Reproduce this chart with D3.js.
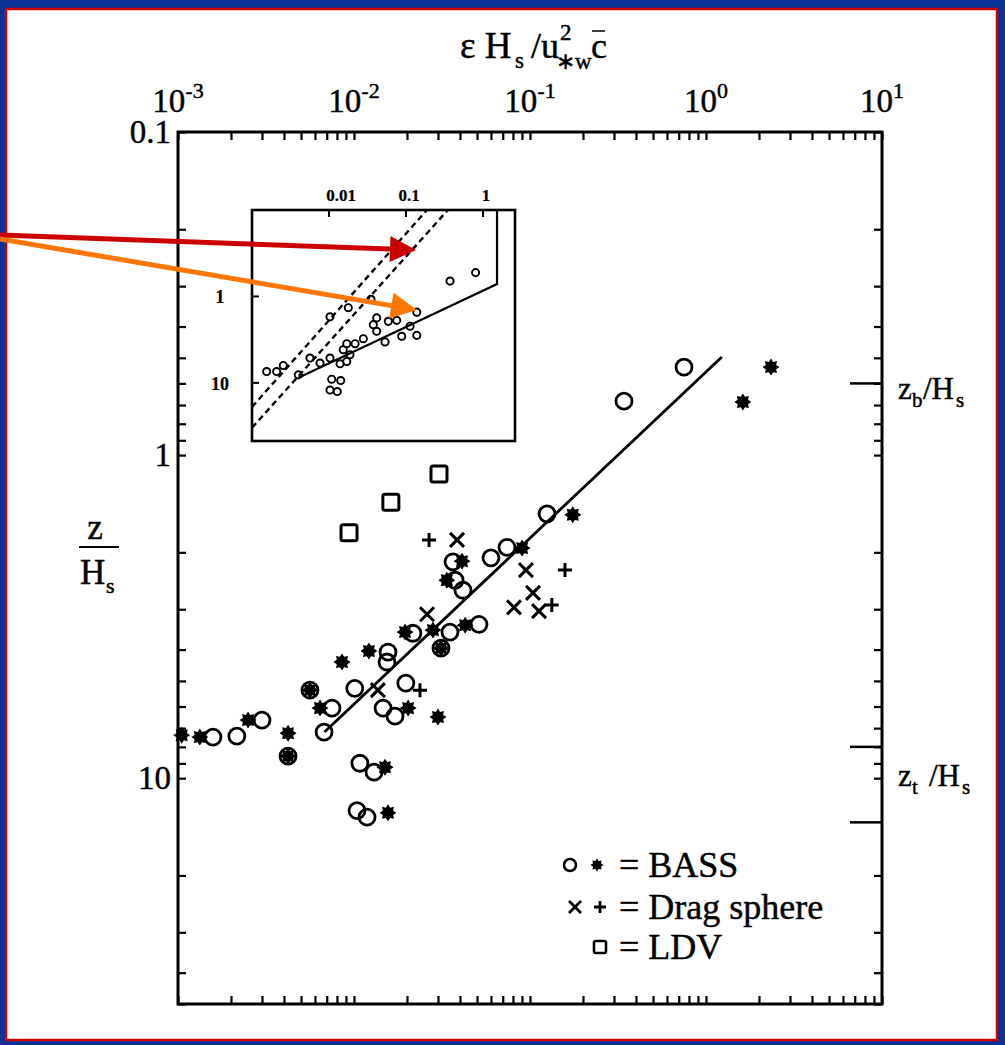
<!DOCTYPE html>
<html><head><meta charset="utf-8">
<script src="https://cdn.jsdelivr.net/npm/d3@7"></script>
<style>
body{margin:0;background:#fff}
svg{display:block}
text{font-family:"Liberation Serif","Times New Roman",serif;fill:#000;stroke:#000;stroke-width:0.45px}
</style>
</head><body>
<svg id="chart" width="1005" height="1045"></svg>
<script>
// ---------------- data ----------------
const xTickValues = [1e-3, 1e-2, 1e-1, 1, 10];
const xTickExponents = ["-3", "-2", "-1", "0", "1"];
const yTickValues = [0.1, 1, 10];
const yTickLabels = ["0.1", "1", "10"];

// BASS open circles
const bassOpenX = [0.750,0.342,0.125,0.074,0.060,0.0365,0.0375,0.0416,0.0513,0.0216,0.0351,0.0156,0.0154,0.0101,0.0075,0.00676,0.00562,0.0197,0.01463,0.0171,0.0108,0.0130,0.0104,0.01186,0.0030,0.00216,0.00158,0.00422,0.0312];
const bassOpenY = [0.534,0.681,1.52,1.93,2.08,2.14,2.44,2.62,3.34,3.56,3.53,4.07,4.37,5.27,6.07,7.20,5.34,5.08,6.07,6.43,8.99,9.58,12.6,13.2,6.61,7.41,7.46,8.55,3.96];
// BASS stars
const bassStarX = [2.34,1.62,0.175,0.0902,0.0411,0.0337,0.0428,0.00105,0.00133,0.0025,0.00422,0.00855,0.01216,0.0195,0.00641,0.0203,0.030,0.0150,0.0156,0.00562,0.00422,0.0312,0.0281];
const bassStarY = [0.534,0.685,1.53,1.94,2.13,2.44,3.36,7.36,7.46,6.61,7.26,4.37,4.04,3.53,6.07,6.07,6.47,9.25,12.8,5.34,8.55,3.96,3.48];
// Drag sphere
const dragTimesX = [0.0385,0.0948,0.0811,0.104,0.1125,0.026,0.01367];
const dragTimesY = [1.83,2.27,2.96,2.67,3.04,3.11,5.34];
const dragPlusX = [0.0267,0.158,0.133,0.0237];
const dragPlusY = [1.83,2.27,2.91,5.34];
// LDV
const ldvX = [0.0304,0.0162,0.00937];
const ldvY = [1.145,1.40,1.74];
// fitted line
const fitX = [0.0068, 1.23];
const fitY = [7.2, 0.497];
// right-axis markers (z_b, z_t range)
const rightMarks = [0.6, 8, 13.7];
const rightLabels = ["b", "t"];
const rightLabelValues = [0.67, 10.6];

// inset
const insetTickX = [0.01, 0.1, 1];
const insetTickXLabels = ["0.01", "0.1", "1"];
const insetTickY = [1, 10];
const insetTickYLabels = ["1", "10"];
const insetX = [0.80,0.373,0.138,0.0351,0.0178,0.0103,0.0416,0.0376,0.0416,0.0589,0.0757,0.1127,0.138,0.0879,0.0534,0.0279,0.0218,0.0170,0.0153,0.0187,0.0170,0.0103,0.00764,0.00566,0.0139,0.00399,0.00255,0.00209,0.00155,0.01084,0.0142,0.0103,0.0128];
const insetY = [0.53,0.664,1.52,1.08,1.35,1.72,1.77,2.12,2.53,1.94,1.89,2.21,2.82,2.89,3.36,3.08,3.52,3.52,4.13,4.72,5.65,5.16,5.90,5.16,6.01,8.07,6.29,7.39,7.39,9.06,9.40,12.1,12.6];
const insetDash1X = [0.001, 0.187];
const insetDash1Y = [19, 0.1];
const insetDash2X = [0.001, 0.35];
const insetDash2Y = [33, 0.1];
const insetSolidX = [0.004, 1.52, 1.52];
const insetSolidY = [8.7, 0.72, 0.1];

// legend
const legendLabels = ["= BASS", "= Drag sphere", "= LDV"];

// ---------------- drawing ----------------
const svg = d3.select("#chart");
const W = 1005, H = 1045;
const L = 178, R = 882, T = 132, B = 1004;

// frame
svg.append("rect").attr("x",0).attr("y",0).attr("width",W).attr("height",H).attr("fill","#0a3296");
svg.append("rect").attr("x",6).attr("y",9).attr("width",W-14).attr("height",H-14).attr("fill","#fff")
  .attr("stroke","#d00000").attr("stroke-width",2.5);

const x = d3.scaleLog().domain([1e-3, 10]).range([L, R]);
const y = d3.scaleLog().domain([0.1, 50]).range([T, B]);

const axes = svg.append("g");
function styleAxis(g){ g.select(".domain").remove(); g.selectAll(".tick line").attr("stroke","#000").attr("stroke-width",2.2); }
axes.append("g").attr("transform",`translate(0,${T})`).call(d3.axisTop(x).tickValues(x.ticks()).tickSize(-8).tickFormat("")).call(styleAxis);
axes.append("g").attr("transform",`translate(0,${B})`).call(d3.axisBottom(x).tickValues(x.ticks()).tickSize(-8).tickFormat("")).call(styleAxis);
axes.append("g").attr("transform",`translate(${L},0)`).call(d3.axisLeft(y).tickValues(y.ticks()).tickSize(-8).tickFormat("")).call(styleAxis);
axes.append("g").attr("transform",`translate(${R},0)`).call(d3.axisRight(y).tickValues(y.ticks()).tickSize(-8).tickFormat("")).call(styleAxis);

svg.append("rect").attr("x",L).attr("y",T).attr("width",R-L).attr("height",B-T)
  .attr("fill","none").attr("stroke","#000").attr("stroke-width",3);

// right long ticks
svg.selectAll("line.rmark").data(rightMarks).join("line").attr("class","rmark")
  .attr("x1",R-32).attr("x2",R).attr("y1",d=>y(d)).attr("y2",d=>y(d))
  .attr("stroke","#000").attr("stroke-width",2.5);

// top tick labels
const xl = svg.selectAll("text.xl").data(xTickValues).join("text").attr("class","xl")
  .attr("x",d=>x(d)).attr("y",112).attr("text-anchor","middle").attr("font-size",33);
xl.append("tspan").text("10");
xl.append("tspan").attr("font-size",22).attr("dy",-14).text((d,i)=>xTickExponents[i]);

// left tick labels
svg.selectAll("text.yl").data(yTickValues).join("text").attr("class","yl")
  .attr("x",171).attr("y",d=>y(d)+11).attr("text-anchor","end").attr("font-size",33)
  .text((d,i)=>yTickLabels[i]);

// title
const tg = svg.append("g");
tg.append("text").attr("x",460).attr("y",58).attr("font-size",37).text("ε H");
tg.append("text").attr("x",515).attr("y",68).attr("font-size",23).text("s");
tg.append("text").attr("x",531).attr("y",58).attr("font-size",36).text("/u");
tg.append("text").attr("x",560).attr("y",40).attr("font-size",23).text("2");
tg.append("text").attr("x",556).attr("y",69).attr("font-size",23).text("∗w");
tg.append("text").attr("x",591).attr("y",58).attr("font-size",36).text("c");
tg.append("line").attr("x1",592).attr("x2",605).attr("y1",31).attr("y2",31).attr("stroke","#000").attr("stroke-width",1.5);

// left axis label z / H_s
svg.append("text").attr("x",95).attr("y",539).attr("text-anchor","middle").attr("font-size",35).text("z");
svg.append("line").attr("x1",79).attr("x2",119).attr("y1",547).attr("y2",547).attr("stroke","#000").attr("stroke-width",2);
svg.append("text").attr("x",80).attr("y",584).attr("font-size",35).text("H");
svg.append("text").attr("x",106).attr("y",593).attr("font-size",22).text("s");

// right labels
function rightLabel(v, sub, gap){
  const g = svg.append("g").attr("transform",`translate(898,${y(v)})`);
  g.append("text").attr("x",0).attr("y",0).attr("font-size",31).text("z");
  g.append("text").attr("x",14).attr("y",8).attr("font-size",21).text(sub);
  g.append("text").attr("x",25+gap).attr("y",0).attr("font-size",31).text("/H");
  g.append("text").attr("x",58+gap).attr("y",8).attr("font-size",21).text("s");
}
rightLabel(rightLabelValues[0], rightLabels[0], 0);
rightLabel(rightLabelValues[1], rightLabels[1], 6);

// ---------- inset ----------
const ix = d3.scaleLog().domain([1e-3, 2.6]).range([252, 515]);
const iy = d3.scaleLog().domain([0.1, 47]).range([210, 441]);
const inset = svg.append("g");
inset.append("rect").attr("x",252).attr("y",210).attr("width",263).attr("height",231)
  .attr("fill","#fff").attr("stroke","#000").attr("stroke-width",2.6);
inset.selectAll("line.itx").data(insetTickX).join("line").attr("class","itx")
  .attr("x1",d=>ix(d)).attr("x2",d=>ix(d)).attr("y1",210).attr("y2",217).attr("stroke","#000").attr("stroke-width",2);
inset.selectAll("line.ity").data(insetTickY).join("line").attr("class","ity")
  .attr("x1",252).attr("x2",259).attr("y1",d=>iy(d)).attr("y2",d=>iy(d)).attr("stroke","#000").attr("stroke-width",2);
inset.selectAll("text.itxl").data(insetTickX).join("text").attr("class","itxl")
  .attr("x",(d,i)=>ix(d)+(i===0?12:3)).attr("y",201).attr("text-anchor","middle").attr("font-size",17).attr("font-weight","bold")
  .style("stroke-width","0.2px")
  .text((d,i)=>insetTickXLabels[i]);
inset.selectAll("text.ityl").data(insetTickY).join("text").attr("class","ityl")
  .attr("x",220).attr("y",d=>iy(d)+7).attr("text-anchor","middle").attr("font-size",18).attr("font-weight","bold")
  .style("stroke-width","0.2px")
  .text((d,i)=>insetTickYLabels[i]);
const iline = d3.line().x(d=>ix(d[0])).y(d=>iy(d[1]));
inset.append("defs").append("clipPath").attr("id","iclip").append("rect").attr("x",252).attr("y",210).attr("width",263).attr("height",231);
const ic = inset.append("g").attr("clip-path","url(#iclip)");
ic.append("path").attr("d",iline(d3.zip(insetDash1X,insetDash1Y))).attr("fill","none").attr("stroke","#000").attr("stroke-width",2.4).attr("stroke-dasharray","6,4");
ic.append("path").attr("d",iline(d3.zip(insetDash2X,insetDash2Y))).attr("fill","none").attr("stroke","#000").attr("stroke-width",2.4).attr("stroke-dasharray","6,4");
ic.append("path").attr("d",iline(d3.zip(insetSolidX,insetSolidY))).attr("fill","none").attr("stroke","#000").attr("stroke-width",2.2);
ic.selectAll("circle").data(d3.zip(insetX,insetY)).join("circle")
  .attr("cx",d=>ix(d[0])).attr("cy",d=>iy(d[1])).attr("r",3.6)
  .attr("fill","none").attr("stroke","#000").attr("stroke-width",1.9);

// ---------- main marks ----------
function starPath(r){
  const n=8, p=[];
  for(let i=0;i<2*n;i++){const a=Math.PI*i/n; const rr=i%2?r*0.66:r; p.push([rr*Math.sin(a),-rr*Math.cos(a)]);}
  return "M"+p.map(q=>q[0].toFixed(2)+","+q[1].toFixed(2)).join("L")+"Z";
}
const line = d3.line().x(d=>x(d[0])).y(d=>y(d[1]));
svg.append("path").attr("d",line(d3.zip(fitX,fitY))).attr("fill","none").attr("stroke","#000").attr("stroke-width",2.8);

const marks = svg.append("g");
marks.selectAll("circle.bo").data(d3.zip(bassOpenX,bassOpenY)).join("circle").attr("class","bo")
  .attr("cx",d=>x(d[0])).attr("cy",d=>y(d[1])).attr("r",8).attr("fill","none").attr("stroke","#000").attr("stroke-width",2.8);
marks.selectAll("path.bs").data(d3.zip(bassStarX,bassStarY)).join("path").attr("class","bs")
  .attr("transform",d=>`translate(${x(d[0])},${y(d[1])})`).attr("d",starPath(8.5)).attr("fill","#000");
marks.selectAll("path.dt").data(d3.zip(dragTimesX,dragTimesY)).join("path").attr("class","dt")
  .attr("transform",d=>`translate(${x(d[0])},${y(d[1])})`).attr("d","M-7,-7L7,7M-7,7L7,-7")
  .attr("stroke","#000").attr("stroke-width",3).attr("fill","none");
marks.selectAll("path.dp").data(d3.zip(dragPlusX,dragPlusY)).join("path").attr("class","dp")
  .attr("transform",d=>`translate(${x(d[0])},${y(d[1])})`).attr("d","M-7,0L7,0M0,-7L0,7")
  .attr("stroke","#000").attr("stroke-width",3).attr("fill","none");
marks.selectAll("rect.ldv").data(d3.zip(ldvX,ldvY)).join("rect").attr("class","ldv")
  .attr("x",d=>x(d[0])-8).attr("y",d=>y(d[1])-8).attr("width",16).attr("height",16).attr("rx",2)
  .attr("fill","none").attr("stroke","#000").attr("stroke-width",3);

// ---------- legend ----------
const lg = svg.append("g");
const ly = [865, 907, 947];
lg.append("circle").attr("cx",570).attr("cy",ly[0]).attr("r",6).attr("fill","none").attr("stroke","#000").attr("stroke-width",2.6);
lg.append("path").attr("transform",`translate(597,${ly[0]})`).attr("d",starPath(6.5)).attr("fill","#000");
lg.append("path").attr("transform",`translate(575,${ly[1]})`).attr("d","M-6,-6L6,6M-6,6L6,-6").attr("stroke","#000").attr("stroke-width",2.8);
lg.append("path").attr("transform",`translate(600,${ly[1]})`).attr("d","M-6,0L6,0M0,-6L0,6").attr("stroke","#000").attr("stroke-width",2.8);
lg.append("rect").attr("x",594).attr("y",ly[2]-6).attr("width",12).attr("height",12).attr("rx",1.5).attr("fill","none").attr("stroke","#000").attr("stroke-width",2.6);
lg.selectAll("text").data(legendLabels).join("text").attr("x",619).attr("y",(d,i)=>ly[i]+12)
  .attr("font-size",36).text(d=>d);

// ---------- annotation arrows ----------
function arrow(x0,y0,x1,y1,color){
  const a=Math.atan2(y1-y0,x1-x0), len=26, w=13;
  const bx=x1-len*Math.cos(a), by=y1-len*Math.sin(a);
  svg.append("line").attr("x1",x0).attr("y1",y0).attr("x2",bx).attr("y2",by).attr("stroke",color).attr("stroke-width",5);
  svg.append("path").attr("d",`M${x1},${y1}L${bx+w*Math.sin(a)},${by-w*Math.cos(a)}L${bx-w*Math.sin(a)},${by+w*Math.cos(a)}Z`).attr("fill",color);
}
arrow(0,235,416,250,"#cc0000");
arrow(0,239,417,310,"#ff7700");
</script>
</body></html>
